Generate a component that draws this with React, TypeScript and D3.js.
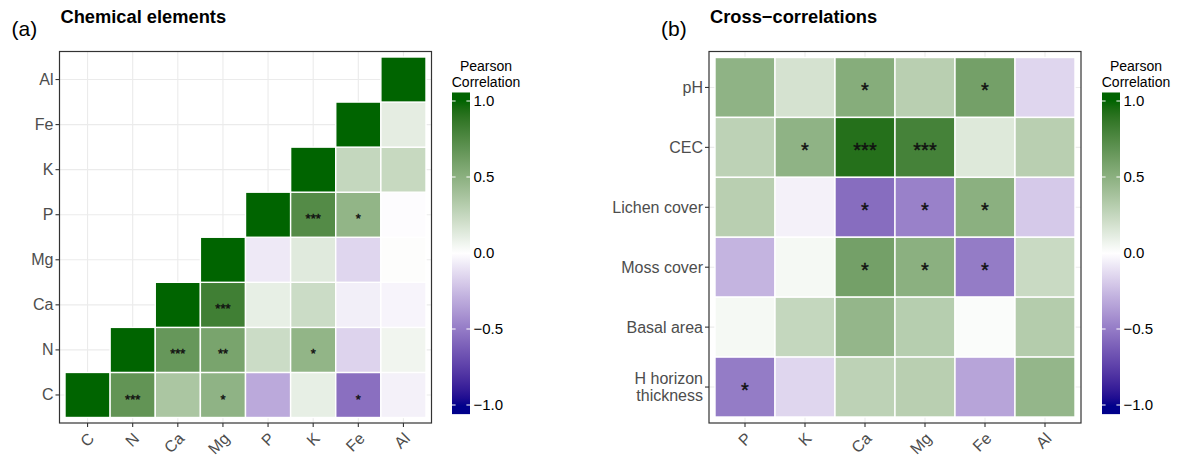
import * as d3 from "d3";
import { useEffect, useRef } from "react";

const WIDTH = 1184;
const HEIGHT = 456;
const FONT = "'Liberation Sans', Arial, Helvetica, sans-serif";

// panel (a): element x element, lower triangle, rows listed bottom -> top
const elements = ["C", "N", "Ca", "Mg", "P", "K", "Fe", "Al"];
const chemC = [1, 0.68, 0.36, 0.48, -0.32, 0.1, -0.55, -0.05];
const chemN = [null, 1, 0.66, 0.58, 0.22, 0.47, -0.16, 0.06];
const chemCa = [null, null, 1, 0.82, 0.1, 0.22, -0.06, -0.04];
const chemMg = [null, null, null, 1, -0.08, 0.13, -0.15, 0.01];
const chemP = [null, null, null, null, 1, 0.74, 0.47, -0.01];
const chemK = [null, null, null, null, null, 1, 0.25, 0.24];
const chemFe = [null, null, null, null, null, null, 1, 0.11];
const chemAl = [null, null, null, null, null, null, null, 1];
const chemSigC = ["", "***", "", "*", "", "", "*", ""];
const chemSigN = ["", "", "***", "**", "", "*", "", ""];
const chemSigCa = ["", "", "", "***", "", "", "", ""];
const chemSigP = ["", "", "", "", "", "***", "*", ""];

// panel (b): soil / vegetation variables x elements, rows listed top -> bottom
const soilVars = ["pH", "CEC", "Lichen cover", "Moss cover", "Basal area", "H horizon\nthickness"];
const crossElements = ["P", "K", "Ca", "Mg", "Fe", "Al"];
const crossPH = [0.48, 0.18, 0.52, 0.3, 0.6, -0.15];
const crossCEC = [0.28, 0.48, 0.92, 0.8, 0.14, 0.3];
const crossLichen = [0.3, -0.05, -0.56, -0.48, 0.5, -0.2];
const crossMoss = [-0.28, 0.04, 0.6, 0.5, -0.5, 0.23];
const crossBasal = [0.04, 0.25, 0.46, 0.31, 0.02, 0.32];
const crossH = [-0.5, -0.15, 0.28, 0.3, -0.34, 0.46];
const crossSigPH = ["", "", "*", "", "*", ""];
const crossSigCEC = ["", "*", "***", "***", "", ""];
const crossSigLichen = ["", "", "*", "*", "*", ""];
const crossSigMoss = ["", "", "*", "*", "*", ""];
const crossSigH = ["*", "", "", "", "", ""];

const legendBreaks = [1, 0.5, 0, -0.5, -1];

type Cell = { row: string; col: string; value: number; sig: string };

function fillFor(v: number) {
    const t = Math.max(-1, Math.min(1, v));
    return t >= 0 ? d3.interpolateLab("#ffffff", "#006400")(t) : d3.interpolateLab("#ffffff", "#00008b")(-t);
}

function buildCells(rows: string[], cols: string[], values: (number | null)[][], sigs: string[][]): Cell[] {
    const out: Cell[] = [];
    rows.forEach((r, i) =>
        cols.forEach((c, j) => {
            const v = values[i][j];
            if (v === null || v === undefined) return;
            out.push({ row: r, col: c, value: v, sig: sigs[i]?.[j] ?? "" });
        })
    );
    return out;
}

type PanelSpec = {
    id: string;
    tag: string;
    title: string;
    rowsTopDown: string[];
    cols: string[];
    cells: Cell[];
    panel: { x0: number; x1: number; y0: number; y1: number };
    pad: number;
    starSize: number;
    starShift: number;
    legendX: number;
};

function drawPanel(svg: d3.Selection<SVGSVGElement, unknown, null, undefined>, spec: PanelSpec) {
    const { panel, pad } = spec;
    const g = svg.append("g");
    const x = d3.scaleBand<string>().domain(spec.cols).range([panel.x0 + pad, panel.x1 - pad]);
    const y = d3.scaleBand<string>().domain(spec.rowsTopDown).range([panel.y0 + pad, panel.y1 - pad]);

    g.append("rect")
        .attr("x", panel.x0)
        .attr("y", panel.y0)
        .attr("width", panel.x1 - panel.x0)
        .attr("height", panel.y1 - panel.y0)
        .attr("fill", "white");

    // grid
    g.selectAll("line.vgrid")
        .data(spec.cols)
        .enter()
        .append("line")
        .attr("x1", (d) => (x(d) ?? 0) + x.bandwidth() / 2)
        .attr("x2", (d) => (x(d) ?? 0) + x.bandwidth() / 2)
        .attr("y1", panel.y0)
        .attr("y2", panel.y1)
        .attr("stroke", "#ebebeb")
        .attr("stroke-width", 1.1);
    g.selectAll("line.hgrid")
        .data(spec.rowsTopDown)
        .enter()
        .append("line")
        .attr("y1", (d) => (y(d) ?? 0) + y.bandwidth() / 2)
        .attr("y2", (d) => (y(d) ?? 0) + y.bandwidth() / 2)
        .attr("x1", panel.x0)
        .attr("x2", panel.x1)
        .attr("stroke", "#ebebeb")
        .attr("stroke-width", 1.1);

    // tiles
    g.selectAll("rect.tile")
        .data(spec.cells)
        .enter()
        .append("rect")
        .attr("x", (d) => x(d.col) ?? 0)
        .attr("y", (d) => y(d.row) ?? 0)
        .attr("width", x.bandwidth())
        .attr("height", y.bandwidth())
        .attr("fill", (d) => fillFor(d.value))
        .attr("stroke", "white")
        .attr("stroke-width", 1.4);

    g.selectAll("text.sig")
        .data(spec.cells.filter((d) => d.sig))
        .enter()
        .append("text")
        .attr("x", (d) => (x(d.col) ?? 0) + x.bandwidth() / 2)
        .attr("y", (d) => (y(d.row) ?? 0) + y.bandwidth() / 2 + spec.starSize * 0.58 + spec.starShift)
        .attr("text-anchor", "middle")
        .attr("font-family", FONT)
        .attr("font-size", spec.starSize)
        .attr("fill", "#111111")
        .attr("stroke", "#111111")
        .attr("stroke-width", 0.4)
        .text((d) => d.sig);

    g.append("rect")
        .attr("x", panel.x0)
        .attr("y", panel.y0)
        .attr("width", panel.x1 - panel.x0)
        .attr("height", panel.y1 - panel.y0)
        .attr("fill", "none")
        .attr("stroke", "#333333")
        .attr("stroke-width", 1.2);

    // y axis
    spec.rowsTopDown.forEach((r) => {
        const cy = (y(r) ?? 0) + y.bandwidth() / 2;
        g.append("line")
            .attr("x1", panel.x0 - 4)
            .attr("x2", panel.x0)
            .attr("y1", cy)
            .attr("y2", cy)
            .attr("stroke", "#333333")
            .attr("stroke-width", 1.1);
        const lines = r.split("\n");
        const t = g
            .append("text")
            .attr("x", panel.x0 - 6)
            .attr("y", cy + 5.5 - ((lines.length - 1) * 17) / 2)
            .attr("text-anchor", "end")
            .attr("font-family", FONT)
            .attr("font-size", 16)
            .attr("fill", "#4d4d4d");
        lines.forEach((ln, i) =>
            t
                .append("tspan")
                .attr("x", panel.x0 - 6)
                .attr("dy", i === 0 ? 0 : 17)
                .text(ln)
        );
    });

    // x axis
    spec.cols.forEach((c) => {
        const cx = (x(c) ?? 0) + x.bandwidth() / 2;
        g.append("line")
            .attr("x1", cx)
            .attr("x2", cx)
            .attr("y1", panel.y1)
            .attr("y2", panel.y1 + 4)
            .attr("stroke", "#333333")
            .attr("stroke-width", 1.1);
        g.append("text")
            .attr("transform", `translate(${cx + 7.5},${panel.y1 + 16.5}) rotate(-45)`)
            .attr("text-anchor", "end")
            .attr("font-family", FONT)
            .attr("font-size", 16)
            .attr("fill", "#4d4d4d")
            .text(c);
    });

    // titles
    svg.append("text")
        .attr("x", panel.x0 + 1)
        .attr("y", 23)
        .attr("font-family", FONT)
        .attr("font-weight", "bold")
        .attr("font-size", 18.3)
        .attr("fill", "black")
        .text(spec.title);
    svg.append("text")
        .attr("x", panel.x0 - 48)
        .attr("y", 36)
        .attr("font-family", FONT)
        .attr("font-size", 21)
        .attr("fill", "black")
        .text(spec.tag);

    // colour bar legend
    const lx = spec.legendX;
    const barW = 18;
    const ly = d3.scaleLinear().domain([-1, 1]).range([405, 101]);
    const top = ly(1.056);
    const bottom = ly(-1.06);
    const gradId = `grad-${spec.id}`;
    const grad = svg
        .append("defs")
        .append("linearGradient")
        .attr("id", gradId)
        .attr("x1", 0)
        .attr("x2", 0)
        .attr("y1", 0)
        .attr("y2", 1);
    d3.range(0, 41).forEach((i) => {
        const v = ly.invert(top + ((bottom - top) * i) / 40);
        grad.append("stop")
            .attr("offset", `${(i / 40) * 100}%`)
            .attr("stop-color", fillFor(v));
    });
    const lg = svg.append("g");
    lg.append("rect")
        .attr("x", lx)
        .attr("y", top)
        .attr("width", barW)
        .attr("height", bottom - top)
        .attr("fill", `url(#${gradId})`);
    legendBreaks.forEach((b) => {
        const yy = ly(b);
        lg.append("line").attr("x1", lx).attr("x2", lx + 3.6).attr("y1", yy).attr("y2", yy).attr("stroke", "white").attr("stroke-width", 1);
        lg.append("line")
            .attr("x1", lx + barW - 3.6)
            .attr("x2", lx + barW)
            .attr("y1", yy)
            .attr("y2", yy)
            .attr("stroke", "white")
            .attr("stroke-width", 1);
        lg.append("text")
            .attr("x", lx + barW + 3.5)
            .attr("y", yy + 5.3)
            .attr("font-family", FONT)
            .attr("font-size", 15)
            .attr("fill", "black")
            .text(d3.format(".1f")(b).replace("-", "\u2212"));
    });
    ["Pearson", "Correlation"].forEach((ln, i) => {
        lg.append("text")
            .attr("x", lx + 34)
            .attr("y", 71 + i * 15.5)
            .attr("text-anchor", "middle")
            .attr("font-family", FONT)
            .attr("font-size", 14)
            .attr("fill", "black")
            .text(ln);
    });
}

export default function App() {
    const svgRef = useRef<SVGSVGElement | null>(null);

    useEffect(() => {
        if (!svgRef.current) return;
        const svg = d3.select(svgRef.current);
        svg.selectAll("*").remove();

        const chemCells = buildCells(
            elements,
            elements,
            [chemC, chemN, chemCa, chemMg, chemP, chemK, chemFe, chemAl],
            [chemSigC, chemSigN, chemSigCa, [], chemSigP, [], [], []]
        );
        const crossCells = buildCells(
            soilVars,
            crossElements,
            [crossPH, crossCEC, crossLichen, crossMoss, crossBasal, crossH],
            [crossSigPH, crossSigCEC, crossSigLichen, crossSigMoss, [], crossSigH]
        );

        drawPanel(svg, {
            id: "a",
            tag: "(a)",
            title: "Chemical elements",
            rowsTopDown: [...elements].reverse(),
            cols: elements,
            cells: chemCells,
            panel: { x0: 59.5, x1: 431.5, y0: 51.5, y1: 423 },
            pad: 5.5,
            starSize: 13,
            starShift: 1,
            legendX: 452,
        });
        drawPanel(svg, {
            id: "b",
            tag: "(b)",
            title: "Cross\u2212correlations",
            rowsTopDown: soilVars,
            cols: crossElements,
            cells: crossCells,
            panel: { x0: 709, x1: 1081, y0: 51.5, y1: 423 },
            pad: 6,
            starSize: 20,
            starShift: -2,
            legendX: 1102,
        });

        return () => {
            svg.selectAll("*").remove();
        };
    }, []);

    return (
        <svg
            ref={svgRef}
            width={WIDTH}
            height={HEIGHT}
            style={{ position: "absolute", left: 0, top: 0, display: "block", background: "white" }}
        />
    );
}
